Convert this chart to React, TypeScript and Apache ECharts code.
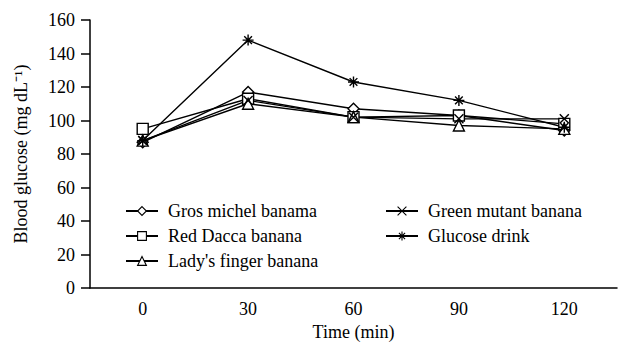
import React, { useEffect, useRef } from "react";
import * as echarts from "echarts";

const categories = ["0", "30", "60", "90", "120"];
const grosMichel = [87, 117, 107, 103, 94];
const redDacca = [95, 113, 102, 103, 98];
const ladysFinger = [88, 110, 102, 97, 95];
const greenMutant = [88, 112, 102, 101, 101];
const glucoseDrink = [88, 148, 123, 112, 96];
const seriesNames = [
  "Gros michel banama",
  "Red Dacca banana",
  "Lady's finger banana",
  "Green mutant banana",
  "Glucose drink",
];

const FONT = "Times New Roman";
const CROSS = "path://M0,0L10,10M10,0L0,10";
const STAR = "path://M5,0L5,10M0,5L10,5M1.5,1.5L8.5,8.5M8.5,1.5L1.5,8.5";

export default function App() {
  const ref = useRef<HTMLDivElement>(null);
  useEffect(() => {
    const chart = echarts.init(ref.current!, undefined, { renderer: "svg" });
    const mk = (name: string, data: number[], symbol: string, size: number) => ({
      name,
      type: "line",
      data,
      symbol,
      symbolSize: size,
      symbolKeepAspect: true,
      showAllSymbol: true,
      lineStyle: { color: "#000", width: 1.4 },
      itemStyle: { color: "#fff", borderColor: "#000", borderWidth: 1.4 },
      emphasis: { disabled: true },
    });
    const legendBase = {
      orient: "vertical",
      itemWidth: 32,
      itemHeight: 11,
      itemGap: 7,
      itemStyle: { borderWidth: 1.1 },
      textStyle: { fontFamily: FONT, fontSize: 18, color: "#000", padding: [0, 0, 0, 5] },
      selectedMode: false,
    };
    chart.setOption({
      animation: false,
      textStyle: { fontFamily: FONT },
      grid: { left: 90, top: 20, width: 527, bottom: 59 },
      legend: [
        { ...legendBase, left: 120, top: 197, data: seriesNames.slice(0, 3) },
        { ...legendBase, left: 380, top: 197, data: seriesNames.slice(3) },
      ],
      xAxis: {
        type: "category",
        data: categories,
        boundaryGap: true,
        name: "Time (min)",
        nameLocation: "middle",
        nameGap: 35,
        nameTextStyle: { fontFamily: FONT, fontSize: 18, color: "#000", fontWeight: "normal" },
        axisLine: { lineStyle: { color: "#000", width: 1.5 } },
        axisTick: { length: 8, lineStyle: { color: "#000", width: 1.5 } },
        axisLabel: { fontFamily: FONT, fontSize: 18, color: "#000", margin: 12 },
      },
      yAxis: {
        type: "value",
        min: 0,
        max: 160,
        interval: 20,
        name: "Blood glucose (mg dL\u207B\u00B9)",
        nameLocation: "middle",
        nameGap: 60,
        nameTextStyle: { fontFamily: FONT, fontSize: 18, color: "#000" },
        axisLine: { show: true, lineStyle: { color: "#000", width: 1.5 } },
        axisTick: { show: true, length: 9, lineStyle: { color: "#000", width: 1.5 } },
        axisLabel: { fontFamily: FONT, fontSize: 18, color: "#000", margin: 15 },
        splitLine: { show: false },
      },
      series: [
        mk(seriesNames[0], grosMichel, "diamond", 11),
        mk(seriesNames[1], redDacca, "rect", 11),
        mk(seriesNames[2], ladysFinger, "triangle", 11),
        mk(seriesNames[3], greenMutant, CROSS, 9),
        mk(seriesNames[4], glucoseDrink, STAR, 11),
      ],
    });
    return () => chart.dispose();
  }, []);
  return (
    <div
      ref={ref}
      style={{ position: "absolute", left: 0, top: 0, width: 626, height: 347, background: "#fff" }}
    />
  );
}
